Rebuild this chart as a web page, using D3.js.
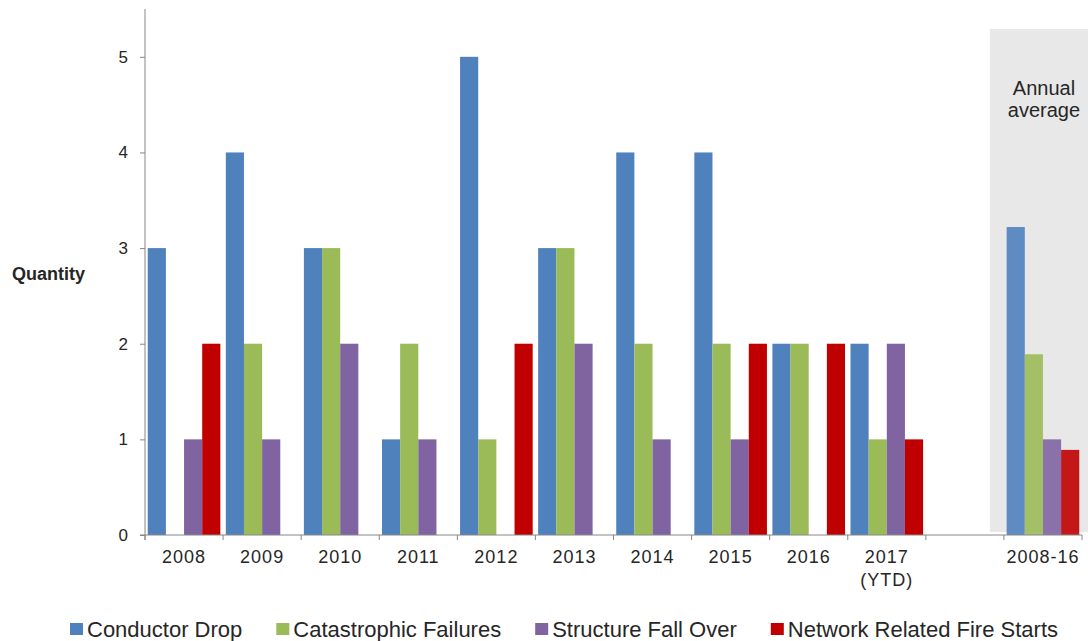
<!DOCTYPE html>
<html>
<head>
<meta charset="utf-8">
<script src="https://cdn.jsdelivr.net/npm/d3@7"></script>
<style>
  body { margin: 0; background: #fff; }
  svg text { font-family: "Liberation Sans", Arial, sans-serif; fill: #262626; }
</style>
</head>
<body>
<div id="chart"></div>
<script>
// categories on the x axis (the blank one is the gap before the average)
const categories = ['2008', '2009', '2010', '2011', '2012', '2013', '2014', '2015', '2016', '2017\n(YTD)', ' ', '2008-16'];
const seriesNames = ['Conductor Drop', 'Catastrophic Failures', 'Structure Fall Over', 'Network Related Fire Starts'];
const seriesColors = ['#4f81bd', '#9bbb59', '#8064a2', '#c00000'];

// values per series, same order as categories (blank category = null)
const conductorDrop = [3, 4, 3, 1, 5, 3, 4, 4, 2, 2, null, 3.22];
const catastrophicFailures = [0, 2, 3, 2, 1, 3, 2, 2, 2, 1, null, 1.89];
const structureFallOver = [1, 1, 2, 1, 0, 2, 1, 1, 0, 2, null, 1.0];
const fireStarts = [2, 0, 0, 0, 2, 0, 0, 2, 2, 1, null, 0.89];

const yTicks = [0, 1, 2, 3, 4, 5];
const averageCategory = '2008-16';

const width = 1088;
const height = 641;

const svg = d3.select('#chart')
  .append('svg')
  .attr('width', width)
  .attr('height', height);

const x = d3.scaleBand()
  .domain(categories)
  .range([145, 1082])
  .paddingInner(0.07)
  .paddingOuter(0.035);

const xSub = d3.scaleBand()
  .domain(seriesNames)
  .range([0, x.bandwidth()]);

const y = d3.scaleLinear()
  .domain([0, 5.5])
  .range([535, 9]);

const allSeries = [conductorDrop, catastrophicFailures, structureFallOver, fireStarts];

// grey panel behind the annual average
const avgLeft = x(averageCategory) - x.step() * x.paddingInner() / 2 - 14;
svg.append('rect')
  .attr('x', avgLeft)
  .attr('y', 29)
  .attr('width', width - avgLeft)
  .attr('height', y(0) - 3 - 29)
  .attr('fill', '#e8e8e8');

svg.append('text')
  .attr('x', x(averageCategory) + x.bandwidth() / 2 + 1)
  .attr('y', 95)
  .attr('text-anchor', 'middle')
  .attr('font-size', '20px')
  .selectAll('tspan')
  .data(['Annual', 'average'])
  .enter()
  .append('tspan')
  .attr('x', x(averageCategory) + x.bandwidth() / 2 + 1)
  .attr('dy', (d, i) => i === 0 ? 0 : 22)
  .text(d => d);

// bars
const rows = [];
categories.forEach((c, ci) => {
  seriesNames.forEach((s, si) => {
    const v = allSeries[si][ci];
    if (v) rows.push({cat: c, series: s, color: seriesColors[si], value: v});
  });
});

svg.append('g')
  .selectAll('rect')
  .data(rows)
  .enter()
  .append('rect')
  .attr('x', d => x(d.cat) + xSub(d.series))
  .attr('y', d => y(d.value))
  .attr('width', xSub.bandwidth())
  .attr('height', d => y(0) - y(d.value))
  .attr('fill', d => d.color)
  .attr('fill-opacity', d => d.cat === averageCategory ? 0.9 : 1);

// y axis
const yAxis = svg.append('g')
  .attr('transform', 'translate(145,0)')
  .call(d3.axisLeft(y).tickValues(yTicks).tickSize(5).tickPadding(12).tickFormat(d3.format('d')));
yAxis.select('.domain').attr('stroke', '#868686').attr('d', 'M-5,' + y(0) + 'H0V' + y(5.5) + 'M0,' + y(0) + 'V540');
yAxis.selectAll('.tick line').attr('stroke', '#868686');
yAxis.selectAll('.tick text')
  .attr('font-size', '17px')
  .attr('font-family', '"Liberation Sans", Arial, sans-serif')
  .attr('fill', '#262626');

// x axis: line, boundary ticks, labels
const xAxis = svg.append('g');
xAxis.append('line')
  .attr('x1', 145).attr('x2', 1082)
  .attr('y1', y(0)).attr('y2', y(0))
  .attr('stroke', '#868686');

const bounds = categories.map(c => x(c) - x.step() * x.paddingInner() / 2);
bounds.push(1082);
xAxis.selectAll('line.tick')
  .data(bounds)
  .enter()
  .append('line')
  .attr('class', 'tick')
  .attr('x1', d => d).attr('x2', d => d)
  .attr('y1', y(0)).attr('y2', y(0) + 5)
  .attr('stroke', '#868686');

xAxis.selectAll('text.cat')
  .data(categories)
  .enter()
  .append('text')
  .attr('class', 'cat')
  .attr('text-anchor', 'middle')
  .attr('font-size', '18px')
  .attr('letter-spacing', '1px')
  .attr('y', 563)
  .each(function (d) {
    const cx = x(d) + x.bandwidth() / 2;
    d3.select(this).selectAll('tspan')
      .data(d.split('\n'))
      .enter()
      .append('tspan')
      .attr('x', cx)
      .attr('dy', (t, i) => i === 0 ? 0 : 23)
      .text(t => t);
  });

// axis title
svg.append('text')
  .attr('x', 12)
  .attr('y', 280)
  .attr('font-size', '18px')
  .attr('font-weight', 'bold')
  .text('Quantity');

// legend
let lx = 70;
seriesNames.forEach((s, i) => {
  const g = svg.append('g').attr('transform', 'translate(' + lx + ',0)');
  g.append('rect')
    .attr('x', 0).attr('y', 623)
    .attr('width', 13).attr('height', 12)
    .attr('fill', seriesColors[i]);
  const t = g.append('text')
    .attr('x', 17)
    .attr('y', 637)
    .attr('font-size', '22px')
    .attr('fill', '#333')
    .text(s);
  lx += 17 + t.node().getComputedTextLength() + 34;
});
</script>
</body>
</html>
